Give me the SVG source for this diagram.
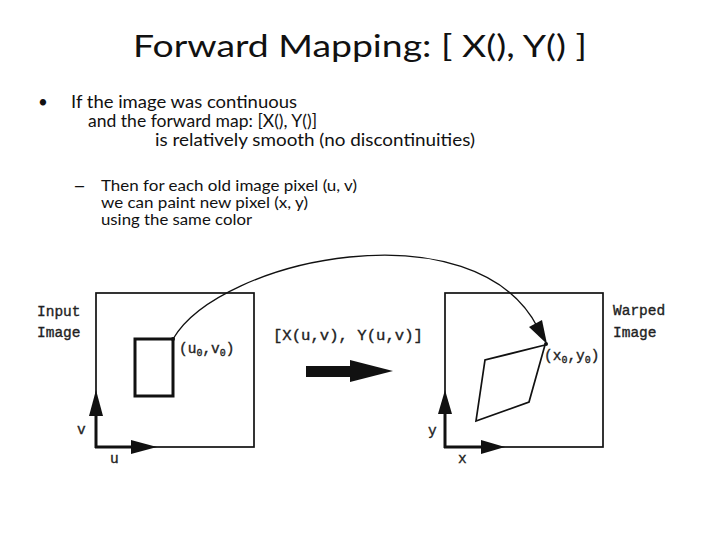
<svg xmlns="http://www.w3.org/2000/svg" width="720" height="540" viewBox="0 0 720 540">
<style>
.t{font-family:Lato,"Open Sans","Liberation Sans",sans-serif;fill:#111}
.m{font-family:"Liberation Mono","Courier New",monospace;fill:#222;font-size:14.5px;stroke:#222;stroke-width:0.35}
.thin{fill:none;stroke:#111;stroke-width:1.7}
.ax{fill:none;stroke:#111;stroke-width:3}
.hd{fill:#111}
</style>
<rect width="720" height="540" fill="#fff"/>
<g id="title"><text class="t" x="133" y="57" font-size="31" textLength="454" lengthAdjust="spacingAndGlyphs">Forward Mapping: [ X(), Y() ]</text></g>
<g id="bullets">
<text class="t" x="38" y="108" font-size="17">•</text>
<text class="t" x="71" y="108" font-size="17" textLength="226" lengthAdjust="spacingAndGlyphs">If the image was continuous</text>
<text class="t" x="88" y="127" font-size="17" textLength="229" lengthAdjust="spacingAndGlyphs">and the forward map: [X(), Y()]</text>
<text class="t" x="155" y="146" font-size="17" textLength="320" lengthAdjust="spacingAndGlyphs">is relatively smooth (no discontinuities)</text>
<text class="t" x="73" y="191" font-size="15" textLength="13" lengthAdjust="spacingAndGlyphs" font-weight="bold">–</text>
<text class="t" x="101" y="191" font-size="15" textLength="256" lengthAdjust="spacingAndGlyphs">Then for each old image pixel (u, v)</text>
<text class="t" x="101" y="208" font-size="15" textLength="207" lengthAdjust="spacingAndGlyphs">we can paint new pixel (x, y)</text>
<text class="t" x="101" y="225" font-size="15" textLength="151" lengthAdjust="spacingAndGlyphs">using the same color</text>
</g>
<g id="input-image">
<rect class="thin" x="96" y="293" width="158" height="154"/>
<rect x="135" y="339" width="38" height="57" fill="none" stroke="#111" stroke-width="3"/>
<circle cx="173" cy="339" r="2" class="hd"/>
<text class="m" x="37" y="316">Input</text>
<text class="m" x="37" y="337">Image</text>
<text class="m" x="179" y="353">(u<tspan font-size="10" dy="3">0</tspan><tspan dy="-3">,v</tspan><tspan font-size="10" dy="3">0</tspan><tspan dy="-3">)</tspan></text>
<line class="ax" x1="96" y1="448" x2="96" y2="412"/>
<polygon class="hd" points="96,390 89,416 103,416"/>
<line class="ax" x1="95" y1="447" x2="134" y2="447"/>
<polygon class="hd" points="157,447 131,440 131,454"/>
<text class="m" x="77" y="434">v</text>
<text class="m" x="110" y="463">u</text>
</g>
<g id="mapping">
<text class="m" x="273" y="340" font-size="15.5" textLength="150" lengthAdjust="spacingAndGlyphs">[X(u,v), Y(u,v)]</text>
<rect x="306" y="366" width="46" height="11" class="hd"/>
<polygon class="hd" points="350,360 393,371 350,382"/>
</g>
<g id="warped-image">
<rect class="thin" x="445" y="293" width="158" height="154"/>
<polygon class="thin" points="545,345 485,360 476,421 529,402" stroke-width="1.5"/>
<circle cx="546" cy="344" r="2" class="hd"/>
<text class="m" x="613" y="315">Warped</text>
<text class="m" x="613" y="337">Image</text>
<text class="m" x="544" y="360">(x<tspan font-size="10" dy="3">0</tspan><tspan dy="-3">,y</tspan><tspan font-size="10" dy="3">0</tspan><tspan dy="-3">)</tspan></text>
<line class="ax" x1="445" y1="448" x2="445" y2="412"/>
<polygon class="hd" points="445,390 438,414 452,414"/>
<line class="ax" x1="444" y1="447" x2="483" y2="447"/>
<polygon class="hd" points="505,447 481,440 481,454"/>
<text class="m" x="428" y="435">y</text>
<text class="m" x="458" y="463">x</text>
</g>
<g id="connectors">
<path d="M173,339 C220,258 475,205 538,328" fill="none" stroke="#111" stroke-width="1.3"/>
<polygon class="hd" points="547,344 529,327 542,320"/>
</g>
</svg>
